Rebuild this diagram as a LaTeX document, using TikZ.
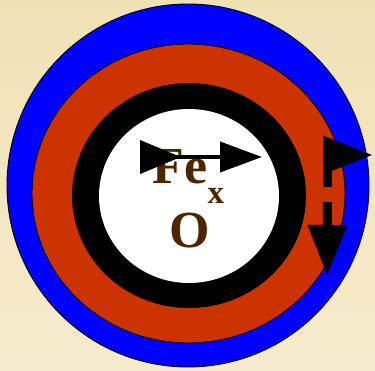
\documentclass[tikz,border=0pt]{standalone}
\usepackage{fontspec}
\setmainfont{Liberation Serif}
\usetikzlibrary{arrows.meta, shapes.geometric}
\definecolor{scaleblue}{HTML}{0000FF}
\definecolor{scalered}{HTML}{CC3300}
\definecolor{scalebrown}{HTML}{4D2600}
\definecolor{bgtop}{HTML}{F0E1B5}
\definecolor{bgbot}{HTML}{F6EBCD}
\tikzset{
  ring/.style={ellipse, inner sep=0pt, draw=black, line width=0.9pt},
  disc/.style={ellipse, inner sep=0pt},
  lbl/.style={inner sep=0pt, text=scalebrown, font=\fontsize{52}{60}\selectfont\bfseries},
  thinflow/.style={line width=4pt, {Triangle[reversed, length=41pt, width=33pt]}-{Triangle[length=42pt, width=30pt]}},
  fatflow/.style={line width=9pt, -{Triangle[length=50pt, width=36pt]}},
}

\begin{document}
\begin{tikzpicture}[x=1pt, y=-1pt]
    % background
    \shade[top color=bgtop, bottom color=bgbot] (0,0) rectangle (375,370);
    \useasboundingbox (0,0) rectangle (375,370);

    % scale layers
    \node[ring, fill=scaleblue, minimum width=362pt, minimum height=363pt] (outer) at (188,185.5) {};
    \node[ring, fill=scalered, minimum width=313pt, minimum height=299pt] (middle) at (188.5,193.5) {};
    \node[disc, fill=black, minimum width=234pt, minimum height=225pt] (inner) at (189,195.5) {};
    \node[disc, fill=white, minimum width=180pt, minimum height=174pt] (core) at (189,196) {};

    % formula
    \node[lbl, anchor=base] (fe) at (188.5,183) {Fe\raisebox{-20pt}{\fontsize{33}{33}\selectfont x}};
    \node[lbl, anchor=base] (ox) at (189.5,247) {O};

    % diffusion arrows
    \coordinate (fetail) at (140,157);
    \coordinate (fehead) at (262,157);
    \draw[thinflow] (fetail) -- (fehead);

    \coordinate (upstart) at (327.5,187);
    \coordinate (uptip) at (373,155);
    \draw[fatflow] (upstart) |- (uptip);

    \coordinate (downstart) at (327.5,202);
    \coordinate (downtip) at (327,276);
    \draw[fatflow, -{Triangle[length=51pt, width=37pt]}] (downstart) -- (downtip);
\end{tikzpicture}
\end{document}
